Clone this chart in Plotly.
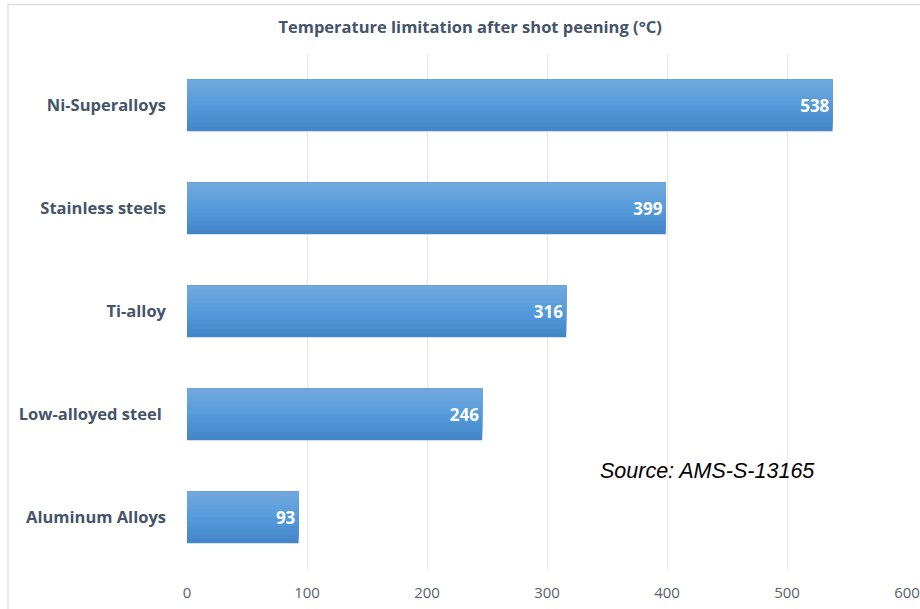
import plotly.graph_objects as go

categories = ["Aluminum Alloys", "Low-alloyed steel ", "Ti-alloy", "Stainless steels", "Ni-Superalloys"]
values = [93, 246, 316, 399, 538]
x_ticks = [0, 100, 200, 300, 400, 500, 600]

fig = go.Figure()

# simulated vertical gradient: overlapping thin bands over each bar
bar_h = 0.5
n_bands = 12
top_col = (0x70, 0xA7, 0xDD)
mid_col = (0x55, 0x9B, 0xDC)
bot_col = (0x44, 0x86, 0xC8)

def lerp(a, b, t):
    return tuple(int(round(a[i] + (b[i] - a[i]) * t)) for i in range(3))

band_h = bar_h / n_bands
for k in range(n_bands):
    t = k / (n_bands - 1)  # 0 = bottom, 1 = top
    if t < 0.5:
        c = lerp(bot_col, mid_col, t / 0.5)
    else:
        c = lerp(mid_col, top_col, (t - 0.5) / 0.5)
    if k == 0:
        off, w = -bar_h / 2, bar_h
    else:
        off, w = -bar_h / 2 + k * band_h, bar_h - k * band_h
    fig.add_trace(go.Bar(
        y=categories, x=values, orientation="h",
        width=w, offset=off,
        marker=dict(color="rgb(%d,%d,%d)" % c, line=dict(width=0)),
        hoverinfo="skip", showlegend=False,
    ))

# label layer (transparent)
fig.add_trace(go.Bar(
    y=categories, x=values, orientation="h",
    width=bar_h, offset=-bar_h / 2,
    marker=dict(color="rgba(0,0,0,0)", line=dict(width=0)),
    text=[str(v) for v in values], textposition="inside", insidetextanchor="end",
    textfont=dict(family="Open Sans", size=17, color="white", weight="bold"),
    showlegend=False,
))

L, R, T, B = 187, 13, 54, 40
W, H = 920, 609
pw, ph = W - L - R, H - T - B

def px_x(p):
    return (p - L) / pw

def px_y(p):
    return (H - B - p) / ph

fig.update_layout(
    width=W, height=H,
    margin=dict(l=L, r=R, t=T, b=B, autoexpand=False),
    paper_bgcolor="white", plot_bgcolor="white",
    barmode="overlay",
    title=dict(text="<b>Temperature limitation after shot peening (°C)</b>",
               x=0.511, xanchor="center", y=1 - 27 / H, yanchor="middle",
               font=dict(family="Open Sans", size=16.5, color="#44546A")),
    xaxis=dict(range=[0, 600], tickvals=x_ticks, showgrid=True, gridcolor="#E6E8EC",
               gridwidth=1, zeroline=False, showline=False, ticks="", automargin=False,
               tickfont=dict(family="Open Sans", size=15, color="#595F6B"),
               ticklabelstandoff=13),
    yaxis=dict(categoryorder="array", categoryarray=categories, showgrid=False,
               zeroline=False, showline=False, ticks="", ticklabelstandoff=20,
               range=[-0.5, 4.5], automargin=False,
               tickfont=dict(family="Open Sans", size=16.5, color="#44546A", weight="bold")),
    shapes=[dict(type="rect", xref="paper", yref="paper",
                 x0=px_x(8), x1=px_x(940), y0=px_y(640), y1=px_y(4.5),
                 line=dict(color="#D9DEE6", width=1.3), fillcolor="rgba(0,0,0,0)", layer="below")],
    annotations=[dict(text="<i>Source: AMS-S-13165</i>", xref="paper", yref="paper",
                      x=px_x(598), y=px_y(471), xanchor="left", yanchor="middle",
                      showarrow=False,
                      font=dict(family="Liberation Sans", size=21.5, color="black"))],
)

fig.write_html("out.html", config={"displayModeBar": False})

# remove default browser body margin so the figure sits at the page origin
with open("out.html", "r", encoding="utf-8") as f:
    html = f.read()
html = html.replace("<body>", '<body style="margin:0;padding:0;overflow:hidden">', 1)
with open("out.html", "w", encoding="utf-8") as f:
    f.write(html)
